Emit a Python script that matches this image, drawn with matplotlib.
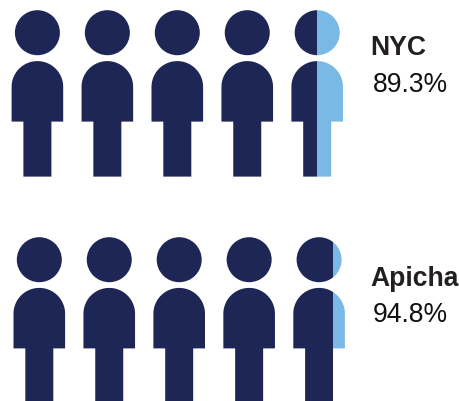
import numpy as np
import matplotlib
matplotlib.use("Agg")
import matplotlib.pyplot as plt
from matplotlib.path import Path
from matplotlib.patches import PathPatch, Circle, Rectangle

groups = ["NYC", "Apicha"]
percents = [89.3, 94.8]
value_labels = ["89.3%", "94.8%"]
people_count = 5

DARK = "#1d2655"
LIGHT = "#7ab8e6"
INK = "#231f20"
BW, BH = 51.6, 60.5      # body
LW, LH = 28.0, 55.0      # leg
HR = 22.5                # head radius
STEP = 69.95
ROWS = [dict(cx=37.4, head=33.7, body=62.1, split=2.0, tx=(370.5, 373.2), ty=(54.6, 92.0)),
        dict(cx=39.3, head=260.7, body=288.9, split=1.6, tx=(370.0, 373.2), ty=(286.3, 322.0))]

fig = plt.figure(figsize=(4.6, 4.02), dpi=100, facecolor="white")
ax = fig.add_axes([0, 0, 1, 1])
ax.set_xlim(0, 460)
ax.set_ylim(402, 0)
ax.axis("off")


def person_paths(cx, head_y, body_y):
    t = np.linspace(np.pi, 2 * np.pi, 60)
    r = BW / 2
    xs = cx + r * np.cos(t)
    ys = body_y + r + r * np.sin(t)
    bottom = body_y + BH
    bx = np.r_[xs, cx + r, cx + LW / 2, cx + LW / 2, cx - LW / 2, cx - LW / 2, cx - r, xs[0]]
    by = np.r_[ys, bottom, bottom, bottom + LH, bottom + LH, bottom, bottom, ys[0]]
    return Circle((cx, head_y), HR), PathPatch(Path(np.c_[bx, by]))


def add_person(cx, head_y, body_y, color, clip=None):
    for p in person_paths(cx, head_y, body_y):
        p.set(facecolor=color, edgecolor="none", linewidth=0)
        ax.add_patch(p)
        if clip is not None:
            rect = Rectangle((clip[0], -10), clip[1] - clip[0], 430, transform=ax.transData)
            p.set_clip_path(rect)


for name, pct, lab, row in zip(groups, percents, value_labels, ROWS):
    per_person = 100 / people_count
    full = int(pct // per_person)
    for i in range(full):
        add_person(row["cx"] + i * STEP, row["head"], row["body"], DARK)
    cx = row["cx"] + full * STEP
    frac = (pct - full * per_person) / per_person
    split = cx - BW / 2 + frac * BW + row["split"]
    add_person(cx, row["head"], row["body"], DARK, clip=(cx - 40, split))
    add_person(cx, row["head"], row["body"], LIGHT, clip=(split, cx + 40))
    ax.text(row["tx"][0], row["ty"][0], name, fontfamily="Liberation Sans", fontweight="bold",
            fontsize=19.1, color=INK, ha="left", va="baseline")
    ax.text(row["tx"][1], row["ty"][1], lab, fontfamily="Liberation Sans",
            fontsize=19.1, color="#111111", ha="left", va="baseline")

fig.savefig("out.png", dpi=100, facecolor="white")
